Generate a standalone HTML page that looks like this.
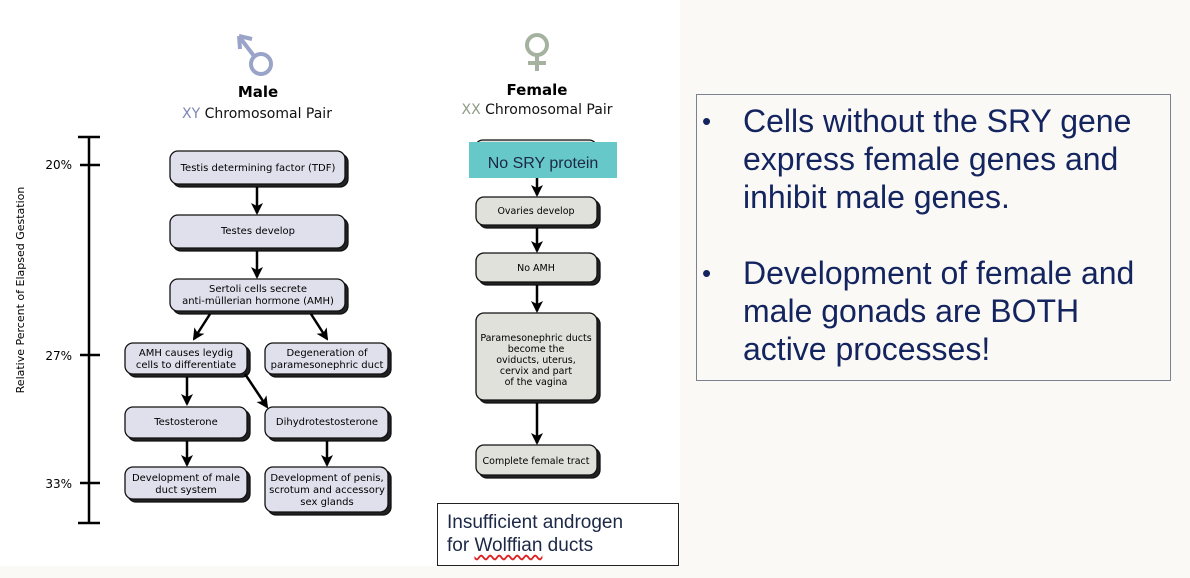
<!DOCTYPE html>
<html><head><meta charset="utf-8"><style>
html,body{margin:0;padding:0;width:1190px;height:578px;overflow:hidden;background:#faf9f6;}
#d{position:absolute;left:0;top:0;width:680px;height:566px;background:#fff;}
svg{position:absolute;left:0;top:0;}
.bx{position:absolute;left:696px;top:94px;width:475px;height:287px;border:1px solid #7a8290;box-sizing:border-box;font-family:"Liberation Sans",sans-serif;font-size:32px;line-height:38px;color:#13245e;}
.bx ul{margin:0;padding:0;list-style:none;}
.bx li{position:relative;padding-left:46px;width:400px;}
.bx li:before{content:"•";position:absolute;left:5px;top:0;font-size:26px;}
.ins{position:absolute;left:437px;top:503px;width:242px;height:63px;border:1px solid #222;box-sizing:border-box;background:#fff;font-family:"Liberation Sans",sans-serif;font-size:19px;line-height:23px;color:#1c2846;padding:7px 0 0 9px;}
</style></head><body>
<div id="d"></div>
<svg width="1190" height="578" font-family="'DejaVu Sans','Liberation Sans',sans-serif">
<defs>
<marker id="a" markerWidth="12" markerHeight="12" refX="10" refY="6" orient="auto" markerUnits="userSpaceOnUse" viewBox="0 0 12 12"><path d="M0,0 L12,6 L0,12 L3,6z" fill="#000"/></marker>
</defs>
<g stroke="#9aa3c8" stroke-width="4" fill="none">
<circle cx="261" cy="64" r="10"/>
<path d="M254,56 L241,39 M239,36 L240,49 M239,36 L252,39"/>
</g>
<g stroke="#a5b29f" stroke-width="4" fill="none">
<circle cx="537" cy="45" r="10"/>
<path d="M537,55 L537,71 M528,63 L546,63"/>
</g>
<text x="258" y="97" font-size="15" font-weight="bold" text-anchor="middle" fill="#000">Male</text>
<text x="257" y="118" font-size="14" text-anchor="middle" fill="#111"><tspan fill="#7d86b6">XY</tspan> Chromosomal Pair</text>
<text x="537" y="95" font-size="15" font-weight="bold" text-anchor="middle" fill="#000">Female</text>
<text x="537" y="114" font-size="14" text-anchor="middle" fill="#111"><tspan fill="#8d9c86">XX</tspan> Chromosomal Pair</text>
<g stroke="#000" stroke-width="2.5">
<line x1="89" y1="137" x2="89" y2="523"/>
<line x1="78" y1="137" x2="100" y2="137"/>
<line x1="80" y1="165" x2="100" y2="165"/>
<line x1="80" y1="355" x2="100" y2="355"/>
<line x1="80" y1="483" x2="100" y2="483"/>
<line x1="78" y1="523" x2="100" y2="523"/>
</g>
<g font-size="12" fill="#000" text-anchor="end">
<text x="72" y="169">20%</text><text x="72" y="360">27%</text><text x="72" y="488">33%</text>
</g>
<text transform="translate(24,290) rotate(-90)" font-size="11" text-anchor="middle" fill="#000">Relative  Percent of Elapsed Gestation</text>
<g fill="#dfe0ec" stroke="#111" stroke-width="1.3">
<g><rect x="173" y="154" width="175" height="33" rx="8" fill="#222"/><rect x="170" y="151" width="175" height="33" rx="8"/></g>
<g><rect x="173" y="218" width="175" height="33" rx="8" fill="#222"/><rect x="170" y="215" width="175" height="33" rx="8"/></g>
<g><rect x="173" y="282" width="175" height="32" rx="8" fill="#222"/><rect x="170" y="279" width="175" height="32" rx="8"/></g>
<g><rect x="128" y="346" width="122" height="31" rx="8" fill="#222"/><rect x="125" y="343" width="122" height="31" rx="8"/></g>
<g><rect x="268" y="346" width="123" height="31" rx="8" fill="#222"/><rect x="265" y="343" width="123" height="31" rx="8"/></g>
<g><rect x="128" y="410" width="122" height="31" rx="8" fill="#222"/><rect x="125" y="407" width="122" height="31" rx="8"/></g>
<g><rect x="268" y="410" width="123" height="31" rx="8" fill="#222"/><rect x="265" y="407" width="123" height="31" rx="8"/></g>
<g><rect x="128" y="470" width="122" height="32" rx="8" fill="#222"/><rect x="125" y="467" width="122" height="32" rx="8"/></g>
<g><rect x="268" y="470" width="123" height="45" rx="8" fill="#222"/><rect x="265" y="467" width="123" height="45" rx="8"/></g>
</g>
<g font-size="10" fill="#000" text-anchor="middle">
<text x="258" y="171">Testis determining factor (TDF)</text>
<text x="258" y="234">Testes develop</text>
<text x="258" y="292">Sertoli cells secrete</text>
<text x="258" y="304">anti-müllerian hormone (AMH)</text>
<text x="186" y="356">AMH causes leydig</text>
<text x="186" y="368">cells to differentiate</text>
<text x="327" y="356">Degeneration of</text>
<text x="327" y="368">paramesonephric duct</text>
<text x="186" y="425">Testosterone</text>
<text x="327" y="425">Dihydrotestosterone</text>
<text x="186" y="481">Development of male</text>
<text x="186" y="493">duct system</text>
<text x="327" y="481">Development of penis,</text>
<text x="327" y="493">scrotum and accessory</text>
<text x="327" y="505">sex glands</text>
</g>
<g fill="#dfe1da" stroke="#111" stroke-width="1.3">
<g><rect x="478" y="143" width="122" height="30" rx="8" fill="#222"/><rect x="475" y="140" width="122" height="30" rx="8"/></g>
<g><rect x="479" y="200" width="121" height="28" rx="8" fill="#222"/><rect x="476" y="197" width="121" height="28" rx="8"/></g>
<g><rect x="479" y="256" width="121" height="29" rx="8" fill="#222"/><rect x="476" y="253" width="121" height="29" rx="8"/></g>
<g><rect x="479" y="316" width="121" height="87" rx="8" fill="#222"/><rect x="476" y="313" width="121" height="87" rx="8"/></g>
<g><rect x="479" y="448" width="121" height="30" rx="8" fill="#222"/><rect x="476" y="445" width="121" height="30" rx="8"/></g>
</g>
<rect x="469" y="142" width="148" height="36" fill="#66c8c8"/>
<text x="543" y="168" font-family="'Liberation Sans',sans-serif" font-size="16" text-anchor="middle" fill="#1c2846">No SRY protein</text>
<g font-size="9.5" fill="#000" text-anchor="middle">
<text x="536" y="214">Ovaries develop</text>
<text x="536" y="271">No AMH</text>
<text x="536" y="341">Paramesonephric ducts</text>
<text x="536" y="352">become the</text>
<text x="536" y="363">oviducts, uterus,</text>
<text x="536" y="374">cervix and part</text>
<text x="536" y="385">of the vagina</text>
<text x="536" y="464">Complete female tract</text>
</g>
<g stroke="#000" stroke-width="2.5" marker-end="url(#a)">
<line x1="257" y1="187" x2="257" y2="213"/>
<line x1="257" y1="251" x2="257" y2="277"/>
<line x1="210" y1="314" x2="194" y2="339"/>
<line x1="311" y1="314" x2="327" y2="339"/>
<line x1="187" y1="377" x2="187" y2="404"/>
<line x1="245" y1="374" x2="267" y2="407"/>
<line x1="187" y1="441" x2="187" y2="465"/>
<line x1="327" y1="441" x2="327" y2="465"/>
<line x1="537" y1="178" x2="537" y2="195"/>
<line x1="537" y1="228" x2="537" y2="251"/>
<line x1="537" y1="285" x2="537" y2="311"/>
<line x1="537" y1="403" x2="537" y2="443"/>
</g>
</svg>
<div class="ins">Insufficient androgen<br>for <span style="text-decoration:underline wavy #d22;text-underline-offset:3px">Wolffian</span> ducts</div>
<div class="bx" style="padding-top:7px;"><ul>
<li>Cells without the SRY gene express female genes and inhibit male genes.</li>
<li style="margin-top:38px">Development of female and male gonads are BOTH active processes!</li>
</ul></div>
</body></html>
